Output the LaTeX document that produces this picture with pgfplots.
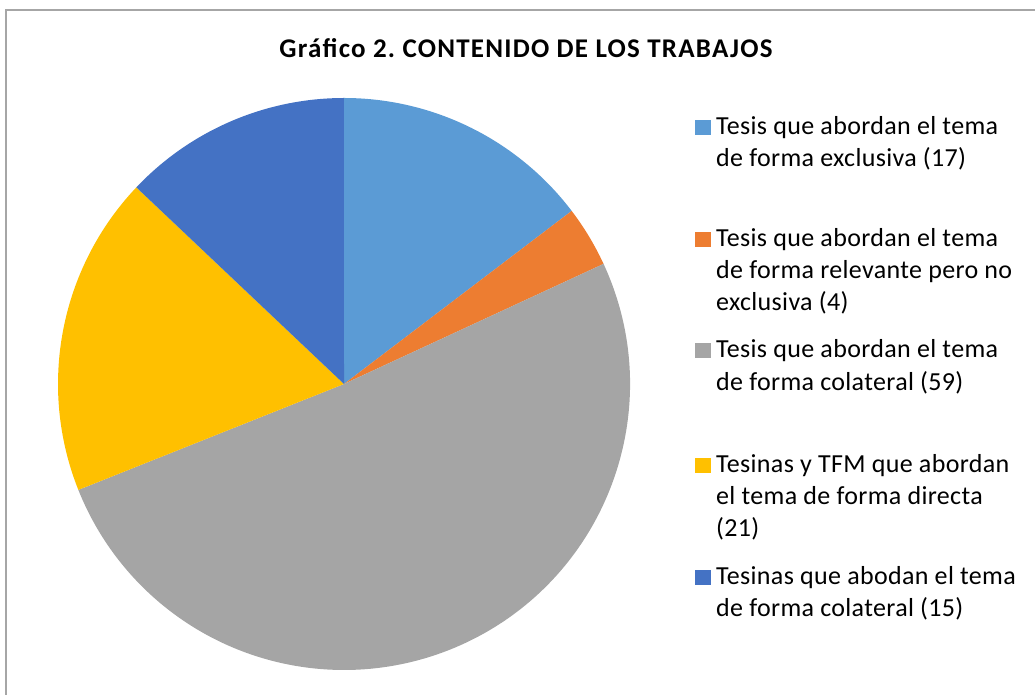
\documentclass[border=0pt]{standalone}
\usepackage{pgfplots}
\pgfplotsset{compat=1.18}
\usepackage{pgfplotstable}
\usepackage{fontspec}
\setmainfont{Carlito}
\newfontfamily\legfont[LetterSpace=1.3]{Carlito}
\newfontfamily\titfont[LetterSpace=4.6]{Carlito}
\frenchspacing
\definecolor{sl0}{HTML}{5B9BD5}
\definecolor{sl1}{HTML}{ED7D31}
\definecolor{sl2}{HTML}{A5A5A5}
\definecolor{sl3}{HTML}{FFC000}
\definecolor{sl4}{HTML}{4472C4}
\definecolor{frame}{HTML}{A6A6A6}
\pgfplotstableread{
value
17
4
59
21
15
}\piedata
\begin{document}
\begin{tikzpicture}
\useasboundingbox (0,0) rectangle (1035pt,695pt);
\begin{axis}[at={(0,0)},anchor=south west,width=1035pt,height=695pt,scale only axis,
  xmin=0,xmax=1035,ymin=0,ymax=695,hide axis,clip=false]
\pgfplotsextra{
  \xdef\tot{0}
  \foreach \i in {0,...,4}{\pgfplotstablegetelem{\i}{value}\of\piedata
    \pgfmathsetmacro{\tmpsum}{\tot+\pgfplotsretval}\xdef\tot{\tmpsum}}
  \xdef\ang{90}
  \foreach \i in {0,...,4}{
    \pgfplotstablegetelem{\i}{value}\of\piedata
    \pgfmathsetmacro{\endang}{\ang-\pgfplotsretval/\tot*360}
    \fill[sl\i] (axis cs:344,311) -- ++(\ang:286pt) arc[start angle=\ang,end angle=\endang,radius=286pt] -- cycle;
    \xdef\ang{\endang}
  }
}
\draw[frame,line width=1.5pt] (axis cs:6,-10) -- (axis cs:6,685) -- (axis cs:1045,685);
\node[anchor=base,font=\titfont\fontsize{27}{30}\selectfont\bfseries] at (axis cs:526,637) {Gráfico 2. CONTENIDO DE LOS TRABAJOS};
% legend
\def\lsq#1#2#3{\fill[#1] (axis cs:695,#2) rectangle (axis cs:711,#3);}
\def\lln#1#2{\node[anchor=base west,inner sep=0pt,font=\legfont\fontsize{26}{30}\selectfont] at (axis cs:716,#1) {#2};}
\lsq{sl0}{560}{575}
\lln{560}{Tesis que abordan el tema}
\lln{528}{de forma exclusiva (17)}
\lsq{sl1}{448}{463}
\lln{448}{Tesis que abordan el tema}
\lln{416}{de forma relevante pero no}
\lln{384}{exclusiva (4)}
\lsq{sl2}{337}{352}
\lln{337}{Tesis que abordan el tema}
\lln{304}{de forma colateral (59)}
\lsq{sl3}{222}{237}
\lln{222}{Tesinas y TFM que abordan}
\lln{190}{el tema de forma directa}
\lln{158}{(21)}
\lsq{sl4}{110}{125}
\lln{110}{Tesinas que abodan el tema}
\lln{78}{de forma colateral (15)}
\end{axis}
\end{tikzpicture}
\end{document}
